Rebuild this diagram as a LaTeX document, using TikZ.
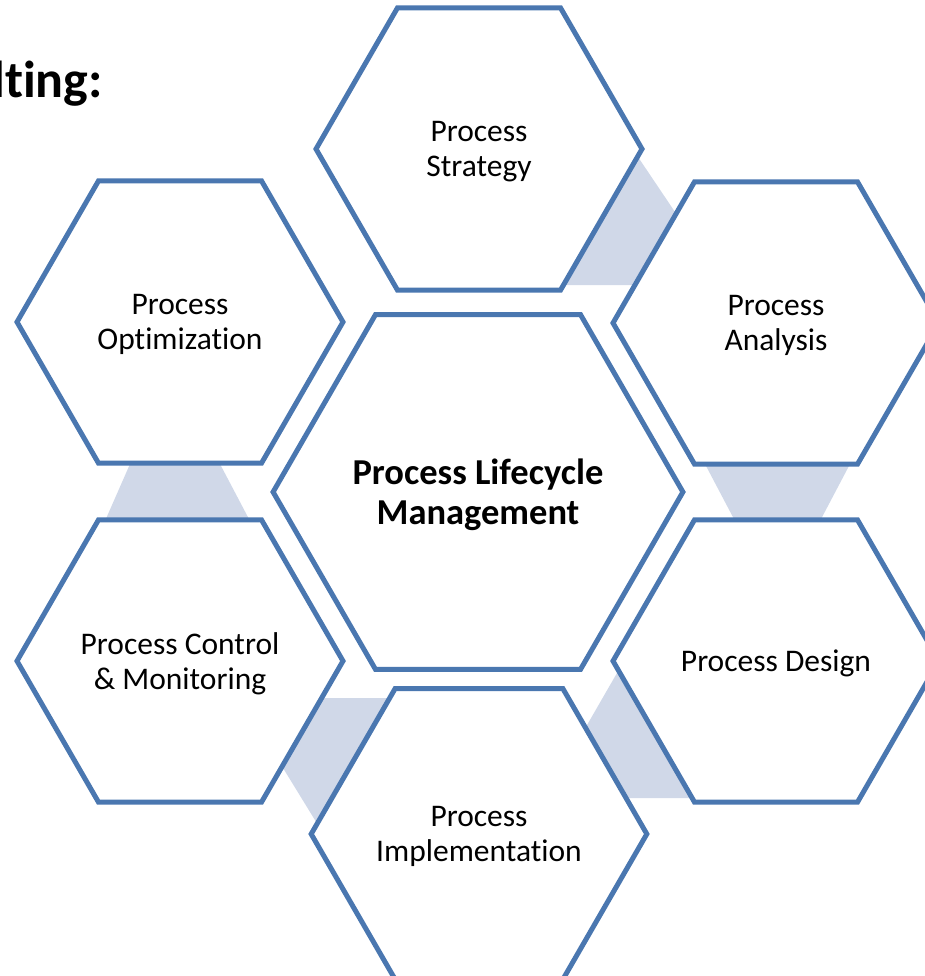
\documentclass[tikz,border=0pt]{standalone}
\usepackage{fontspec}
\setmainfont{Carlito}[Ligatures=NoCommon]
\usetikzlibrary{shapes.geometric}

\definecolor{hexblue}{RGB}{74,119,176}
\definecolor{linkfill}{RGB}{208,216,232}

\begin{document}
\begin{tikzpicture}[x=1pt,y=-1pt,
            every node/.style={align=center,inner sep=0pt,font=\fontsize{31.5}{35}\selectfont},
            hexa/.style={draw=hexblue,line width=5pt,fill=white,regular polygon,regular polygon sides=6,minimum size=326pt,text depth=0pt},
            link/.style={fill=linkfill,draw=none}]
                \useasboundingbox (0,0) rectangle (924,976);
                % links between the stages
                \fill[link] (638,157) -- (675,212) -- (632,285) -- (565,285) -- cycle;
                \fill[link] (705,464) -- (850,464) -- (820,521) -- (735,521) -- cycle;
                \fill[link] (617,673) -- (583,732) -- (623,798) -- (692,798) -- cycle;
                \fill[link] (323,698) -- (393,698) -- (318,825) -- (283,768) -- cycle;
                \fill[link] (130,464) -- (220,464) -- (250,521) -- (105,521) -- cycle;
                % stages
                \node[hexa](strategy) at (479,149) {Process\\Strategy};
                \node[hexa](analysis) at (776,323) {Process\\Analysis};
                \node[hexa](design) at (776,661) {Process Design};
                \node[hexa](implementation) at (479,834) {Process\\Implementation};
                \node[hexa](control) at (180,661) {Process Control\\\& Monitoring};
                \node[hexa](optimization) at (180,322) {Process\\Optimization};
                \node[hexa,minimum size=392pt,font=\fontsize{36.5}{40}\selectfont\bfseries](lifecycle) at (478,492) {Process Lifecycle\\Management};
                \node[anchor=base east,font=\fontsize{52}{56}\selectfont\bfseries](heading) at (103,98) {lting:};
        \end{tikzpicture}
\end{document}
